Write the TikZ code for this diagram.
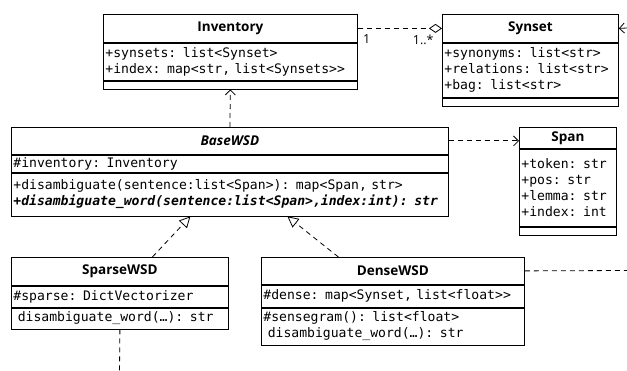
\documentclass[tikz,border=0pt]{standalone}
\usepackage{fontspec}
\newfontfamily\umlsans{Open Sans}
\newfontfamily\umlmono{DejaVu Sans Mono}
\usetikzlibrary{arrows.meta,positioning}
\tikzset{
  ctitle/.style={draw, anchor=north west, inner sep=0pt,
    font=\umlsans\bfseries\fontsize{13.5}{16}\selectfont},
  cpart/.style={draw, below=0pt of #1, inner xsep=2pt, inner ysep=0pt,
    align=left, font=\umlmono\fontsize{13.1}{16}\selectfont},
  mult/.style={inner sep=0pt, font=\umlsans\fontsize{12.5}{14}\selectfont},
  uml/.style={line width=.8pt, dash pattern=on 5pt off 4pt},
  dep/.style={uml, -{Straight Barb[length=5pt,width=10pt,line width=.8pt]}},
  real/.style={uml, -{Triangle[open,length=11pt,width=11pt,line width=.8pt]}},
  agg/.style={uml, -{Diamond[open,length=13pt,width=9pt,line width=.8pt]}},
}
\begin{document}
\begin{tikzpicture}[x=1pt,y=-1pt,every node/.append style={line width=.8pt}]
  \useasboundingbox (0,0) rectangle (627,371);

  \node[ctitle, minimum width=254pt, minimum height=28pt] (inv) at (103,14) {Inventory};
  \node[cpart=inv, text width=250pt, minimum height=37pt] (inv-a)
    {+synsets: list<Synset>\\+index: map<str, list<Synsets>{}>};
  \node[cpart=inv-a, text width=250pt, minimum height=8pt] (inv-o) {};

  \node[ctitle, minimum width=176pt, minimum height=28pt] (syn) at (442,14) {Synset};
  \node[cpart=syn, text width=172pt, minimum height=54pt] (syn-a)
    {+synonyms: list<str>\\+relations: list<str>\\+bag: list<str>};
  \node[cpart=syn-a, text width=172pt, minimum height=8pt] (syn-o) {};

  \node[ctitle, minimum width=437pt, minimum height=27pt] (base) at (11,127) {\itshape BaseWSD};
  \node[cpart=base, text width=433pt, minimum height=17pt] (base-a) {\#inventory: Inventory};
  \node[cpart=base-a, text width=433pt, minimum height=43pt] (base-o)
    {+disambiguate(sentence:list<Span>): map<Span, str>\\
     \bfseries\itshape +disambiguate\_word(sentence:list<Span>,index:int): str};

  \node[ctitle, minimum width=97pt, minimum height=21pt] (span) at (519,127) {Span};
  \node[cpart=span, text width=93pt, minimum height=77pt] (span-a)
    {+token: str\\+pos: str\\+lemma: str\\+index: int};
  \node[cpart=span-a, text width=93pt, minimum height=8pt] (span-o) {};

  \node[ctitle, minimum width=217pt, minimum height=28pt] (sparse) at (11,257) {SparseWSD};
  \node[cpart=sparse, text width=213pt, minimum height=21pt] (sparse-a) {\#sparse: DictVectorizer};
  \node[cpart=sparse-a, text width=213pt, minimum height=21pt] (sparse-o) {~disambiguate\_word(…): str};

  \node[ctitle, minimum width=263pt, minimum height=27pt] (dense) at (261,257) {DenseWSD};
  \node[cpart=dense, text width=259pt, minimum height=22pt] (dense-a) {\#dense: map<Synset, list<float>{}>};
  \node[cpart=dense-a, text width=259pt, minimum height=37pt] (dense-o)
    {\#sensegram(): list<float>\\~disambiguate\_word(…): str};

  \coordinate (syn-in) at (627,28);
  \coordinate (sparse-out) at (119.5,371);
  \coordinate (dense-out) at (627,270.5);

  \draw[agg] (inv.east) -- (syn.west);
  \node[mult, anchor=north west] (inv-m) at ([xshift=5pt,yshift=-6pt]inv.east) {1};
  \node[mult, anchor=north east] (syn-m) at ([xshift=-8pt,yshift=-6pt]syn.west) {1..*};
  \draw[line width=.8pt, -{Straight Barb[length=5pt,width=10pt,line width=.8pt]}] (syn-in) -- (syn.east);
  \draw[dep] (base.north) -- (inv-o.south);
  \draw[dep] (base.east) -- (base.east -| span.west);
  \draw[real] ([xshift=32.5pt]sparse.north) -- ([xshift=-39.5pt]base-o.south);
  \draw[real] ([xshift=-54.5pt]dense.north) -- ([xshift=57.5pt]base-o.south);
  \draw[uml] (sparse-o.south) -- (sparse-out);
  \draw[uml] (dense.east) -- (dense-out);
\end{tikzpicture}
\end{document}
